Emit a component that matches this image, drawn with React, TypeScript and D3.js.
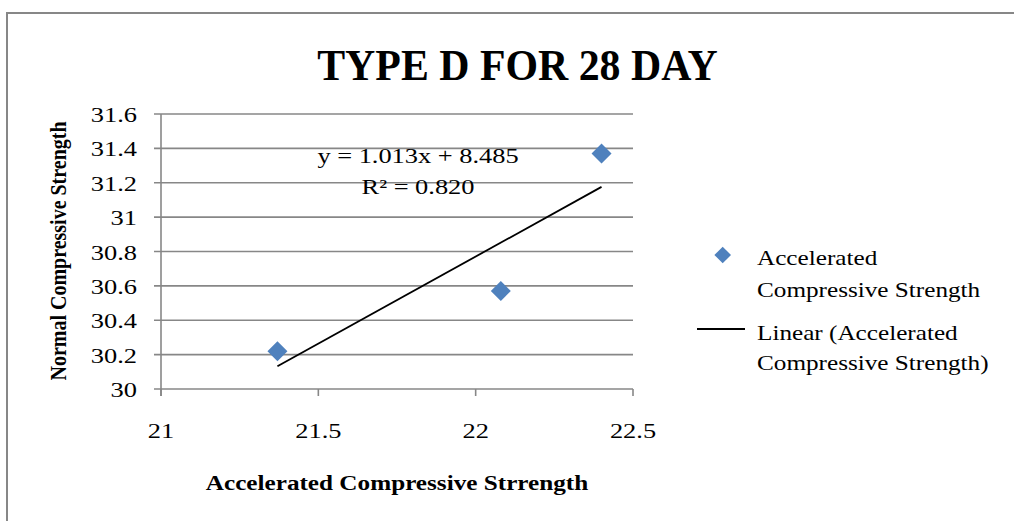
import * as d3 from 'd3'

// scatter points
const accelerated = [21.37, 22.08, 22.4]
const normal = [30.22, 30.57, 31.37]
const xTicks = [21, 21.5, 22, 22.5]
const yTicks = [30, 30.2, 30.4, 30.6, 30.8, 31, 31.2, 31.4, 31.6]
const equationLines = ['y = 1.013x + 8.485', 'R² = 0.820']
const seriesName = ['Accelerated', 'Compressive Strength']
const trendName = ['Linear (Accelerated', 'Compressive Strength)']

const width = 1014
const height = 521
const left = 161
const right = 633
const top = 114
const bottom = 389
const font = '"Liberation Serif", "Times New Roman", serif'
const sx = 1.2 // the picture is stretched sideways
const grid = '#878787'
const blue = '#4F81BD'

function T({ x, y, size, anchor = 'start', bold = false, scale = sx, rotate = 0, children }: any) {
  return (
    <g transform={`translate(${x},${y}) scale(${scale},1) rotate(${rotate})`}>
      <text
        fontFamily={font}
        fontSize={size}
        fontWeight={bold ? 'bold' : 'normal'}
        textAnchor={anchor}
        fill="#000"
      >
        {children}
      </text>
    </g>
  )
}

export default function App() {
  const x = d3.scaleLinear([21, 22.5], [left, right])
  const y = d3.scaleLinear([30, 31.6], [bottom, top])

  // least squares trend line
  const mx = d3.mean(accelerated) as number
  const my = d3.mean(normal) as number
  const sxy = d3.sum(accelerated, (v, i) => (v - mx) * (normal[i] - my))
  const sxx = d3.sum(accelerated, (v) => (v - mx) ** 2)
  const slope = sxy / sxx
  const intercept = my - slope * mx
  const [x0, x1] = d3.extent(accelerated) as [number, number]
  const trend = d3.line<number>((v) => x(v), (v) => y(slope * v + intercept))([x0, x1]) || undefined

  const diamond = d3.symbol(d3.symbolSquare, 200)() || undefined

  return (
    <svg
      width={width}
      height={height}
      viewBox={`0 0 ${width} ${height}`}
      style={{ position: 'absolute', left: 0, top: 0, background: '#fff' }}
    >
      <rect x={7} y={13} width={1100} height={600} fill="#fff" stroke={grid} strokeWidth={2} />

      <T x={517.5} y={80} size={45} anchor="middle" bold scale={0.93}>
        TYPE D FOR 28 DAY
      </T>

      <g stroke={grid} strokeWidth={1.6}>
        {yTicks.map((t) => (
          <line key={t} x1={154} x2={right} y1={y(t)} y2={y(t)} />
        ))}
        <line x1={left} x2={left} y1={top} y2={bottom + 7} />
        {xTicks.map((t) => (
          <line key={t} x1={x(t)} x2={x(t)} y1={bottom} y2={bottom + 7} />
        ))}
      </g>

      {yTicks.map((t) => (
        <T key={t} x={137} y={y(t) + 8} size={22} anchor="end">
          {d3.format('~g')(t)}
        </T>
      ))}
      {xTicks.map((t) => (
        <T key={t} x={x(t)} y={438} size={22} anchor="middle">
          {d3.format('~g')(t)}
        </T>
      ))}

      <path d={trend} fill="none" stroke="#000" strokeWidth={1.8} />

      {accelerated.map((v, i) => (
        <path key={i} d={diamond} transform={`translate(${x(v)},${y(normal[i])}) rotate(45)`} fill={blue} />
      ))}

      {equationLines.map((s, i) => (
        <T key={s} x={418} y={163 + i * 31} size={22} anchor="middle">
          {s}
        </T>
      ))}

      <T x={397} y={490} size={21} anchor="middle" bold>
        Accelerated Compressive Strrength
      </T>
      <T x={66} y={251} size={20} anchor="middle" bold rotate={-90}>
        Normal Compressive Strength
      </T>

      <path d={diamond} transform="translate(722.7,255) scale(0.83) rotate(45)" fill={blue} />
      {seriesName.map((s, i) => (
        <T key={s} x={757} y={265 + i * 32} size={21}>
          {s}
        </T>
      ))}
      <line x1={697} x2={745} y1={329} y2={329} stroke="#000" strokeWidth={1.8} />
      {trendName.map((s, i) => (
        <T key={s} x={757} y={340 + i * 30} size={21}>
          {s}
        </T>
      ))}
    </svg>
  )
}
